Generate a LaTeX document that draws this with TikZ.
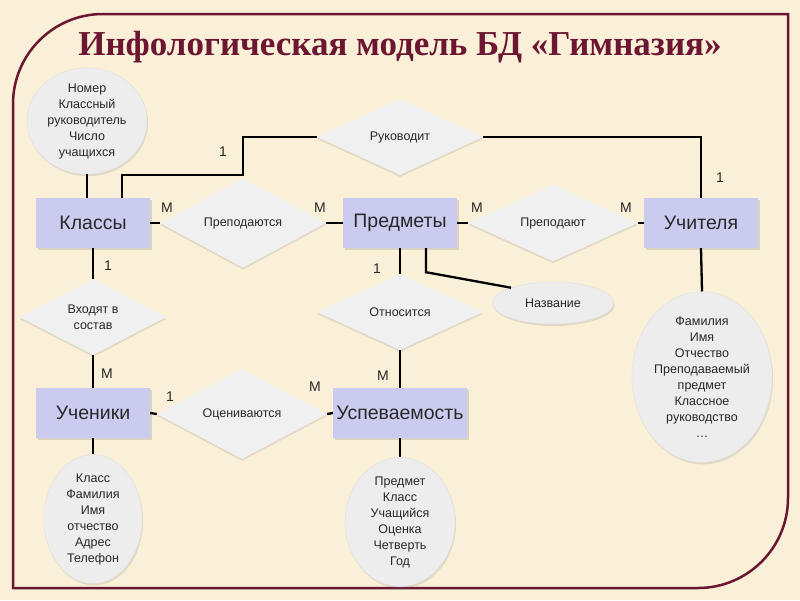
\documentclass[tikz,border=0pt]{standalone}
\usepackage{fontspec}
\setmainfont{Liberation Sans}
\newfontfamily\titlefont{Liberation Serif}
\usepackage{xcolor}
\usetikzlibrary{shapes.geometric,shadows,calc,positioning}
\definecolor{bgbeige}{RGB}{250,240,216}
\definecolor{framered}{RGB}{108,22,50}
\definecolor{entfill}{RGB}{203,203,240}
\definecolor{relfill}{RGB}{240,240,240}
\definecolor{attfill}{RGB}{237,237,237}
\definecolor{txtgray}{RGB}{40,40,40}

\begin{document}
\begin{tikzpicture}[x=1pt,y=-1pt,
    entity/.style={rectangle, fill=entfill, minimum width=114pt, minimum height=50pt,
        text=txtgray, font=\fontsize{19.5}{22}\selectfont,
        drop shadow={shadow xshift=2pt, shadow yshift=-2pt, opacity=0.25}},
    relation/.style={diamond, fill=relfill, inner sep=0pt, minimum width=166pt, minimum height=76pt,
        text=txtgray, align=center, font=\fontsize{12.5}{16}\selectfont,
        drop shadow={shadow xshift=0pt, shadow yshift=-2pt, opacity=0.2}},
    attr/.style={ellipse, fill=attfill, draw=black!12, inner sep=0pt, text=txtgray,
        align=center, font=\fontsize{12.5}{16}\selectfont,
        drop shadow={shadow xshift=1pt, shadow yshift=-2pt, opacity=0.2}},
    link/.style={line width=2.3pt, black},
    card/.style={text=txtgray, font=\fontsize{14}{16}\selectfont}]

    % Background and frame
    \useasboundingbox (0,0) rectangle (800,600);
    \fill[bgbeige] (0,0) rectangle (800,600);
    \draw[framered, line width=2.5pt] (13,588) -- (13,104) arc (180:270:90) -- (788,14)
        -- (788,498) arc (0:90:90) -- cycle;

    % Title
    \node[text=framered, font=\titlefont\bfseries\fontsize{35}{40}\selectfont] (title) at (400,47)
        {Инфологическая модель БД «Гимназия»};

    % Entities
    \node[entity] (klassy) at (93,223) {Классы};
    \node[entity] (predmety) at (400,223) {Предметы};
    \node[entity] (uchitelya) at (701,223) {Учителя};
    \node[entity] (ucheniki) at (93,413) {Ученики};
    \node[entity, minimum width=130pt] (uspev) at (400,413) {Успеваемость};

    % Relations
    \node[relation] (rukovodit) at (400,137) {Руководит};
    \node[relation] (prepodayutsya) at (243,223) {Преподаются};
    \node[relation, minimum width=169pt] (prepodayut) at (553,223) {Преподают};
    \node[relation, minimum width=147pt] (vhodyat) at (93,317) {Входят в\\состав};
    \node[relation] (otnositsya) at (400,312) {Относится};
    \node[relation, minimum width=170pt] (ocenka) at (242,414) {Оцениваются};

    % Attributes
    \node[attr, minimum width=120pt, minimum height=92pt] (klassyattr) at (87,121)
        {Номер\\Классный\\руководитель\\Число\\учащихся};
    \node[attr, minimum width=121pt, minimum height=42pt] (nazvanie) at (553,303) {Название};
    \node[attr, minimum width=140pt, minimum height=134pt] (uchitattr) at (702,377)
        {Фамилия\\Имя\\Отчество\\Преподаваемый\\предмет\\Классное\\руководство\\\ldots};
    \node[attr, minimum width=98pt, minimum height=118pt] (uchenattr) at (93,519)
        {Класс\\Фамилия\\Имя\\отчество\\Адрес\\Телефон};
    \node[attr, minimum width=110pt, minimum height=116pt] (uspevattr) at (400,522)
        {Предмет\\Класс\\Учащийся\\Оценка\\Четверть\\Год};

    % Connections
    \draw[link] (klassyattr.south) -- (klassyattr.south |- klassy.north);
    \draw[link] ([xshift=29pt]klassy.north) -- ++(0,-23) -- ++(121,0) |- (rukovodit.west);
    \draw[link] (rukovodit.east) -| (uchitelya.north);
    \draw[link] (klassy.east) -- (prepodayutsya.west);
    \draw[link] (prepodayutsya.east) -- (predmety.west);
    \draw[link] (predmety.east) -- (prepodayut.west);
    \draw[link] (prepodayut.east) -- (uchitelya.west);
    \draw[link] (klassy.south) -- (vhodyat.north);
    \draw[link] (vhodyat.south) -- (ucheniki.north);
    \draw[link] (predmety.south) -- (otnositsya.north);
    \draw[link] (otnositsya.south) -- (uspev.north);
    \draw[link] ([xshift=26pt]predmety.south) -- ++(0,24) -- (nazvanie.160);
    \draw[link] (ucheniki.east) -- (ocenka.west);
    \draw[link] (ocenka.east) -- (uspev.west);
    \draw[link] (uchitelya.south) -- (uchitattr.north);
    \draw[link] (ucheniki.south) -- (uchenattr.north);
    \draw[link] (uspev.south) -- (uspevattr.north);

    % Cardinalities
    \node[card] (c1) at (223,152) {1};
    \node[card] (c2) at (720,178) {1};
    \node[card] (c3) at (167,208) {M};
    \node[card] (c4) at (320,208) {M};
    \node[card] (c5) at (477,208) {M};
    \node[card] (c6) at (626,208) {M};
    \node[card] (c7) at (108,266) {1};
    \node[card] (c8) at (377,269) {1};
    \node[card] (c9) at (107,374) {M};
    \node[card] (c10) at (383,376) {M};
    \node[card] (c11) at (170,397) {1};
    \node[card] (c12) at (315,387) {M};

\end{tikzpicture}
\end{document}
